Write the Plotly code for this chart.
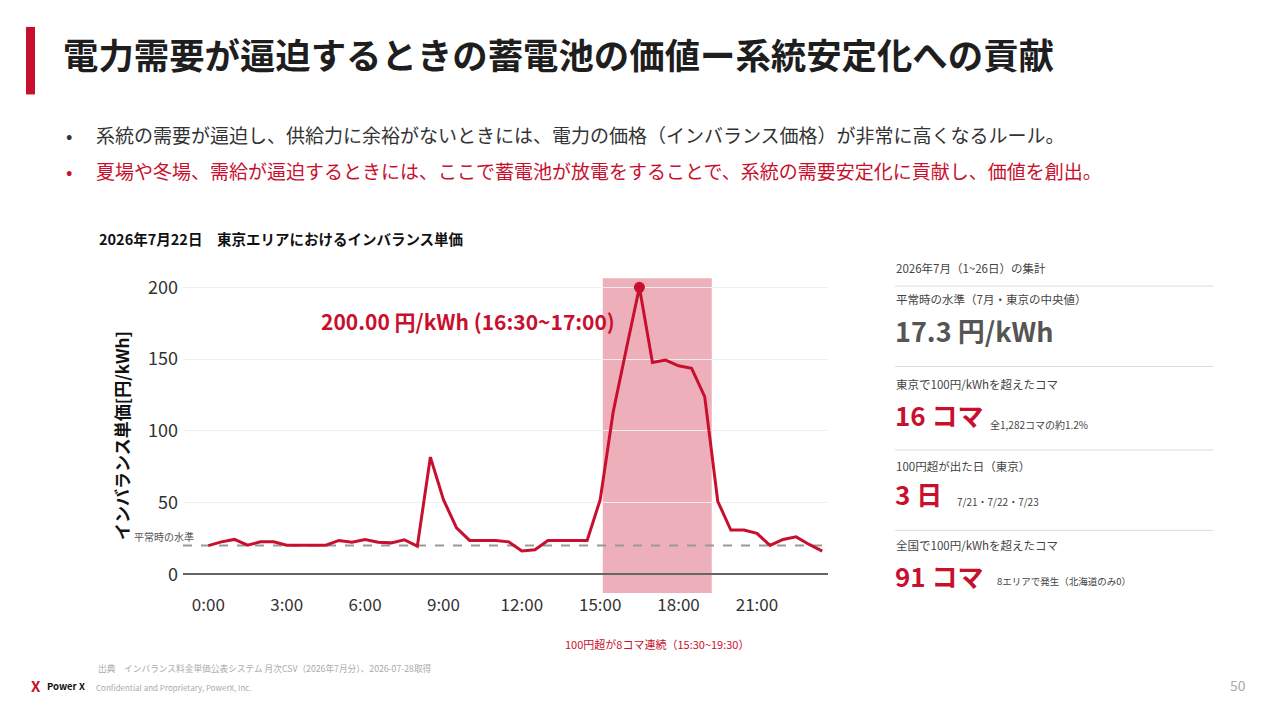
import plotly.graph_objects as go

# データ（2026年7月22日 東京エリア 30分コマ）
slots = ["0:00", "0:30", "1:00", "1:30", "2:00", "2:30", "3:00", "3:30",
         "4:00", "4:30", "5:00", "5:30", "6:00", "6:30", "7:00", "7:30",
         "8:00", "8:30", "9:00", "9:30", "10:00", "10:30", "11:00", "11:30",
         "12:00", "12:30", "13:00", "13:30", "14:00", "14:30", "15:00", "15:30",
         "16:00", "16:30", "17:00", "17:30", "18:00", "18:30", "19:00", "19:30",
         "20:00", "20:30", "21:00", "21:30", "22:00", "22:30", "23:00", "23:30"]
price = [20.0, 22.6, 24.3, 20.3, 22.6, 22.6, 20.3, 20.3,
         20.3, 20.3, 23.6, 22.4, 24.3, 22.4, 21.9, 24.1,
         19.6, 81.7, 52.0, 32.4, 23.6, 23.6, 23.6, 22.6,
         16.2, 17.1, 23.6, 23.6, 23.6, 23.6, 52.0, 113.4,
         157.0, 200.0, 147.6, 149.3, 145.3, 143.5, 123.8, 50.9,
         30.8, 30.8, 28.5, 20.1, 24.3, 26.1, 20.8, 16.2]
tick_labels = ["0:00", "3:00", "6:00", "9:00", "12:00", "15:00", "18:00", "21:00"]
y_ticks = [0, 50, 100, 150, 200]
normal_level = 20
peak_slot = "16:30"
peak_label = "16:30~17:00"
hl_start, hl_end = 15.1, 19.27   # 網掛け範囲（時）

FONT = "Noto Sans CJK JP, sans-serif"
RED = "#C8102E"
W, H = 1280, 720
OFF = 8  # ページ余白の補正


def hours(s):
    h, m = s.split(":")
    return int(h) + int(m) / 60


def px(x):
    return (x - OFF) / W


def py(y):
    return 1 - (y - OFF) / H


xs = [hours(s) for s in slots]
peak_x = hours(peak_slot)
peak_y = price[slots.index(peak_slot)]

fig = go.Figure()

fig.add_trace(go.Scatter(x=xs, y=price, mode="lines", line=dict(color=RED, width=3),
                         hoverinfo="skip", showlegend=False))
fig.add_trace(go.Scatter(x=[peak_x], y=[peak_y], mode="markers",
                         marker=dict(color=RED, size=11), showlegend=False))

fig.update_xaxes(domain=[px(183), px(828)], range=[-0.97, 23.72],
                 tickvals=[hours(t) for t in tick_labels], ticktext=tick_labels,
                 showgrid=False, zeroline=False, showline=False,
                 tickfont=dict(size=17, color="#333333"))
fig.update_yaxes(domain=[py(592), py(275)], range=[-13, 206.4], tickvals=y_ticks,
                 showgrid=True, gridcolor="#eeeeee", gridwidth=1,
                 zeroline=True, zerolinecolor="#666666", zerolinewidth=2,
                 tickfont=dict(size=18, color="#333333"), ticklabelstandoff=4,
                 title=dict(text="<b>インバランス単価[円/kWh]</b>", standoff=14,
                            font=dict(size=17, color="#111111")))

ann = []


def text(x, y, s, size, color="#333333", bold=False, xanchor="left"):
    if bold:
        s = f"<b>{s}</b>"
    ann.append(dict(xref="paper", yref="paper", x=px(x), y=py(y), text=s, showarrow=False,
                    xanchor=xanchor, yanchor="middle", yshift=round(size * 0.17),
                    font=dict(size=size, color=color)))


# タイトル・本文
text(61, 55, "電力需要が逼迫するときの蓄電池の価値ー系統安定化への貢献", 35.4, "#1e1e1e", True)
text(64, 133, "•", 19, "#333333")
text(94, 133, "系統の需要が逼迫し、供給力に余裕がないときには、電力の価格（インバランス価格）が非常に高くなるルール。", 19, "#333333")
text(64, 170, "•", 19, RED)
text(94, 170, "夏場や冬場、需給が逼迫するときには、ここで蓄電池が放電をすることで、系統の需要安定化に貢献し、価値を創出。", 19, RED)
text(97, 237, "2026年7月22日　東京エリアにおけるインバランス単価", 14.5, "#111111", True)

# グラフ注記
ann.append(dict(xref="x", yref="y", x=peak_x, y=peak_y,
                text=f"<b>{peak_y:.2f} 円/kWh ({peak_label})</b>", showarrow=False,
                xanchor="right", yanchor="middle", xshift=-22, yshift=-34,
                font=dict(size=21, color=RED)))
ann.append(dict(xref="paper", yref="y", x=px(196), y=normal_level, text="平常時の水準",
                showarrow=False, xanchor="right", yanchor="bottom", yshift=0,
                font=dict(size=10, color="#555555")))
ann.append(dict(xref="x", yref="paper", x=(hl_start + hl_end) / 2, y=py(645),
                text="100円超が8コマ連続（15:30~19:30）", showarrow=False,
                xanchor="center", yanchor="middle", yshift=2, font=dict(size=11, color=RED)))

# 右側の集計パネル
text(894, 267, "2026年7月（1~26日）の集計", 11.5, "#444444")
text(894, 298, "平常時の水準（7月・東京の中央値）", 11.5, "#444444")
text(893, 333, "17.3 円/kWh", 27, "#555555", True)
text(894, 384, "東京で100円/kWhを超えたコマ", 11.5, "#444444")
text(893, 416, "16 コマ", 26, RED, True)
text(988, 424, "全1,282コマの約1.2%", 10, "#444444")
text(894, 466, "100円超が出た日（東京）", 11.5, "#444444")
text(893, 496, "3 日", 26, RED, True)
text(955, 502, "7/21・7/22・7/23", 10, "#444444")
text(894, 546, "全国で100円/kWhを超えたコマ", 11.5, "#444444")
text(893, 578, "91 コマ", 26, RED, True)
text(995, 582, "8エリアで発生（北海道のみ0）", 9.5, "#444444")

# フッター
text(96, 669, "出典　インバランス料金単価公表システム 月次CSV（2026年7月分）、2026-07-28取得", 8.7, "#aaaaaa")
text(94, 688, "Confidential and Proprietary, PowerX, Inc.", 8, "#aaaaaa")
text(29, 688, "X", 15, RED, True)
text(45, 688, "Power X", 9.5, "#111111", True)
text(1248, 687, "50", 14, "#aaaaaa", xanchor="right")

fig.update_layout(width=W, height=H, margin=dict(l=0, r=0, t=0, b=0),
                  paper_bgcolor="white", plot_bgcolor="white",
                  font=dict(family=FONT), annotations=ann)

# 網掛けと平常時ライン
fig.add_shape(type="rect", xref="x", yref="y domain", x0=hl_start, x1=hl_end, y0=0, y1=1,
              fillcolor=RED, opacity=0.33, line_width=0, layer="below")
fig.add_shape(type="line", xref="x domain", yref="y", x0=0, x1=1, y0=normal_level, y1=normal_level,
              line=dict(color="#999999", width=2, dash="dash"), layer="below")

# 装飾
fig.add_shape(type="rect", xref="paper", yref="paper", x0=px(26), x1=px(35), y0=py(90), y1=py(22),
              fillcolor=RED, line_width=0)
for yy in [283, 364, 448, 529]:
    fig.add_shape(type="line", xref="paper", yref="paper", x0=px(895), x1=px(1213),
                  y0=py(yy), y1=py(yy), line=dict(color="#dddddd", width=1))

fig.write_html("out.html")
